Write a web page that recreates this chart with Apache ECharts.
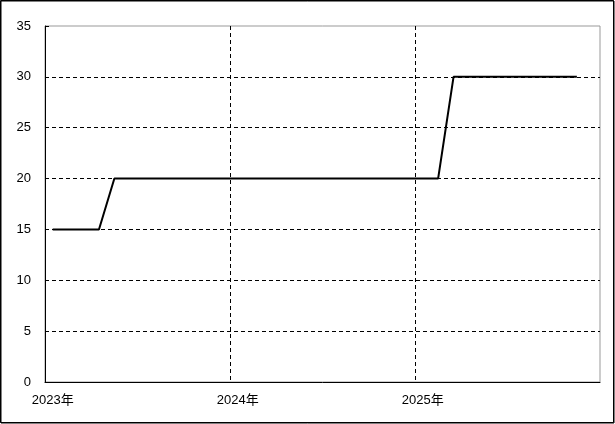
<!DOCTYPE html>
<html>
<head>
<meta charset="utf-8">
<script src="https://cdn.jsdelivr.net/npm/echarts@6/dist/echarts.min.js"></script>
<style>
  html, body { margin: 0; padding: 0; background: #fff; }
  #chart { width: 615px; height: 424px; }
</style>
</head>
<body>
<div id="chart"></div>
<script>
// 月次カテゴリ（2023年1月〜2025年12月）
const years = ['2023', '2024', '2025'];
const months = [];
years.forEach(y => {
  for (let m = 1; m <= 12; m++) months.push(y + '年' + m + '月');
});

// 値（2025年12月は未記入）
const values = [
  15, 15, 15, 15, 20, 20, 20, 20, 20, 20, 20, 20,
  20, 20, 20, 20, 20, 20, 20, 20, 20, 20, 20, 20,
  20, 20, 30, 30, 30, 30, 30, 30, 30, 30, 30, null
];

const yTicks = { min: 0, max: 35, interval: 5 };

const chart = echarts.init(document.getElementById('chart'));

const font = '"Liberation Sans", "Noto Sans CJK JP", sans-serif';

chart.setOption({
  animation: false,
  backgroundColor: '#fff',
  grid: {
    left: 45,
    right: 15,
    top: 26,
    bottom: 42,
    show: true,
    borderColor: '#999',
    borderWidth: 1,
  },
  xAxis: {
    type: 'category',
    data: months,
    boundaryGap: true,
    axisLine: { lineStyle: { color: '#000', width: 1 } },
    axisTick: { show: false },
    axisLabel: {
      color: '#000',
      fontFamily: font,
      fontSize: 13,
      margin: 12,
      interval: (i) => i % 12 === 0,
      formatter: (v) => v.slice(0, 5),
    },
    splitLine: {
      show: true,
      interval: (i) => i % 12 === 0,
      showMinLine: false,
      showMaxLine: false,
      lineStyle: { color: '#000', type: [4, 3], width: 1 },
    },
  },
  yAxis: {
    type: 'value',
    min: yTicks.min,
    max: yTicks.max,
    interval: yTicks.interval,
    axisLine: { show: true, lineStyle: { color: '#000', width: 1 } },
    axisTick: { show: true, inside: true, length: 4, lineStyle: { color: '#000' } },
    axisLabel: {
      color: '#000',
      fontFamily: font,
      fontSize: 13,
      margin: 14,
    },
    splitLine: {
      show: true,
      showMinLine: false,
      showMaxLine: false,
      lineStyle: { color: '#000', type: [4, 3], width: 1 },
    },
  },
  series: [
    {
      type: 'line',
      data: values,
      symbol: 'none',
      lineStyle: { color: '#000', width: 2 },
    },
  ],
  graphic: [
    {
      type: 'rect',
      shape: { x: 0.5, y: 0.5, width: 613, height: 422 },
      style: { fill: 'none', stroke: '#000', lineWidth: 1 },
      silent: true,
    },
    {
      type: 'rect',
      shape: { x: 1, y: 1, width: 613, height: 422 },
      style: { fill: 'none', stroke: '#000', lineWidth: 1 },
      silent: true,
    },
  ],
});
</script>
</body>
</html>
